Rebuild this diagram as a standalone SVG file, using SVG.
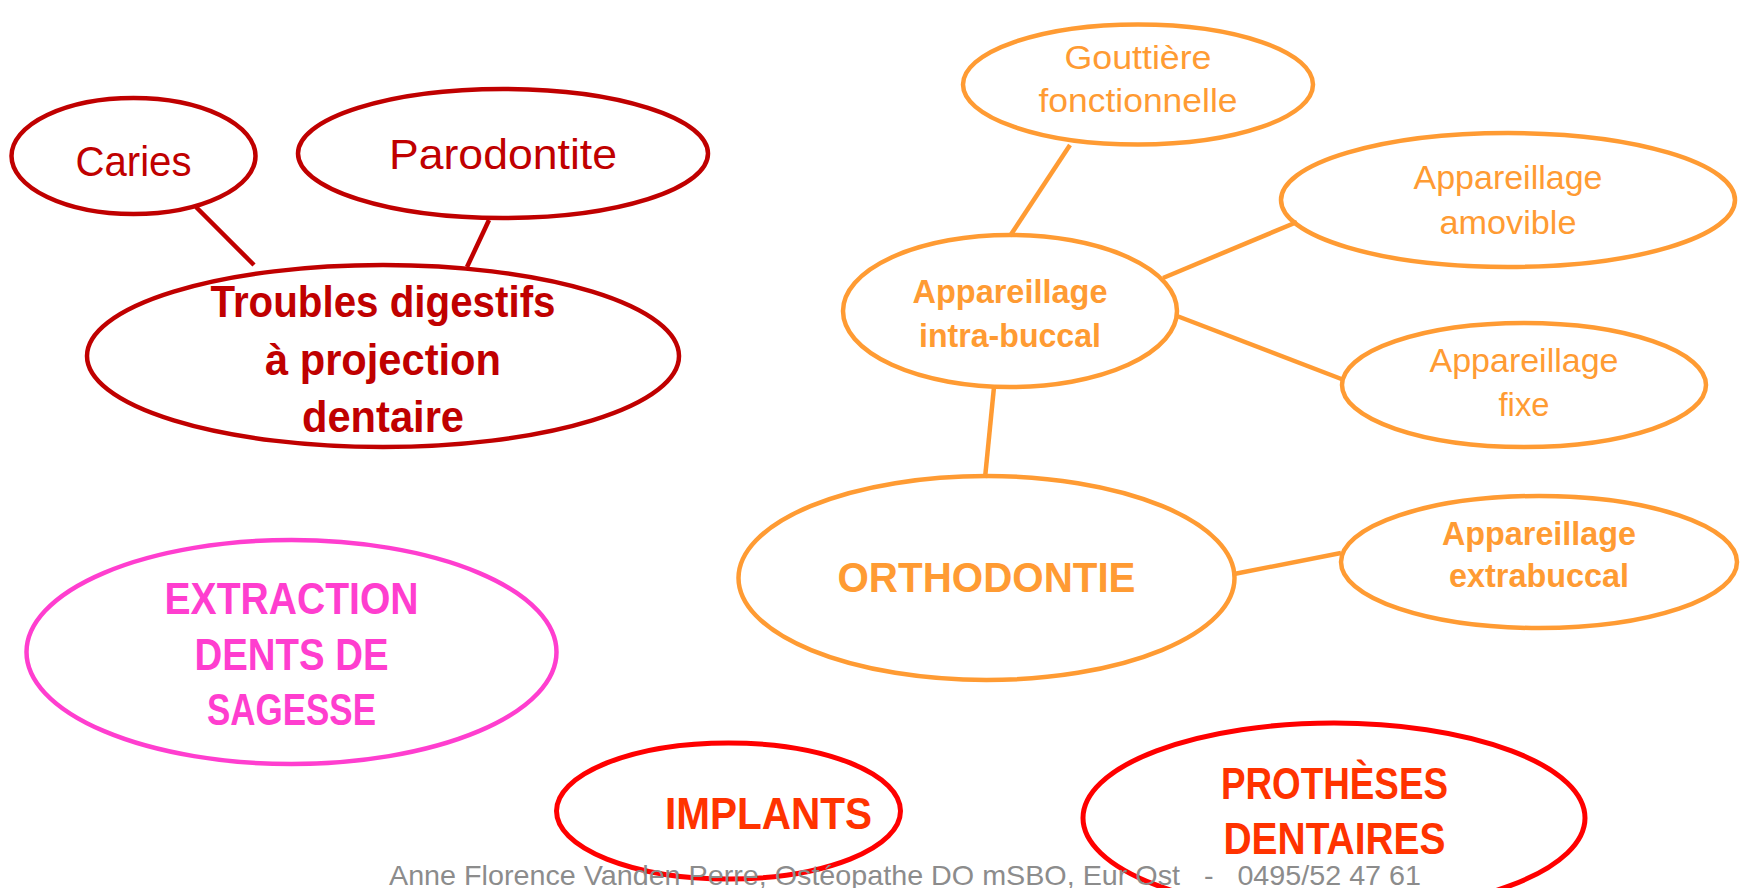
<svg xmlns="http://www.w3.org/2000/svg" width="1744" height="888" viewBox="0 0 1744 888">
<style>
.t{font-family:"Liberation Sans",Arial,sans-serif;text-anchor:middle}
.b{font-weight:bold}
.dr{fill:none;stroke:#C00000;stroke-width:4.5}
.or{fill:none;stroke:#FF9B33;stroke-width:4.5}
.pk{fill:none;stroke:#FF3ECF;stroke-width:4.5}
.rd{fill:none;stroke:#FF0000;stroke-width:5}
.tdr{fill:#C00000}
.tor{fill:#FF9B33}
.tpk{fill:#FF3ECF}
.trd{fill:#FF3300}
.ldr{stroke:#C00000;stroke-width:4.5}
.lor{stroke:#FF9B33;stroke-width:4.5}
</style>
<rect width="1744" height="888" fill="#FFFFFF"/>
<g id="connectors">
<line class="ldr" x1="196" y1="207" x2="254" y2="265"/>
<line class="ldr" x1="489" y1="220" x2="467" y2="267"/>
<line class="lor" x1="1070" y1="145" x2="1010" y2="236"/>
<line class="lor" x1="1163" y1="278" x2="1297" y2="222"/>
<line class="lor" x1="1177" y1="316" x2="1344" y2="380"/>
<line class="lor" x1="994" y1="387" x2="985" y2="478"/>
<line class="lor" x1="1234" y1="574" x2="1341" y2="553"/>
</g>
<g id="caries">
<ellipse class="dr" cx="133.5" cy="156" rx="122" ry="58"/>
<text class="t tdr" x="133.5" y="176" font-size="42" textLength="116" lengthAdjust="spacingAndGlyphs">Caries</text>
</g>
<g id="parodontite">
<ellipse class="dr" cx="503" cy="153.5" rx="205" ry="64.5"/>
<text class="t tdr" x="503" y="169" font-size="42" textLength="228" lengthAdjust="spacingAndGlyphs">Parodontite</text>
</g>
<g id="troubles">
<ellipse class="dr" cx="383" cy="356" rx="296" ry="91"/>
<text class="t b tdr" x="383" y="317" font-size="45" textLength="345" lengthAdjust="spacingAndGlyphs">Troubles digestifs</text>
<text class="t b tdr" x="383" y="375" font-size="45" textLength="236" lengthAdjust="spacingAndGlyphs">à projection</text>
<text class="t b tdr" x="383" y="431.5" font-size="45" textLength="162" lengthAdjust="spacingAndGlyphs">dentaire</text>
</g>
<g id="gouttiere">
<ellipse class="or" cx="1138" cy="84.5" rx="175" ry="60"/>
<text class="t tor" x="1138" y="69" font-size="33" textLength="147" lengthAdjust="spacingAndGlyphs">Gouttière</text>
<text class="t tor" x="1138" y="112" font-size="33" textLength="199" lengthAdjust="spacingAndGlyphs">fonctionnelle</text>
</g>
<g id="amovible">
<ellipse class="or" cx="1508" cy="200" rx="227" ry="67"/>
<text class="t tor" x="1508" y="189" font-size="33" textLength="189" lengthAdjust="spacingAndGlyphs">Appareillage</text>
<text class="t tor" x="1508" y="233.5" font-size="33" textLength="137" lengthAdjust="spacingAndGlyphs">amovible</text>
</g>
<g id="intrabuccal">
<ellipse class="or" cx="1010" cy="311" rx="167" ry="76"/>
<text class="t b tor" x="1010" y="302.5" font-size="33" textLength="195" lengthAdjust="spacingAndGlyphs">Appareillage</text>
<text class="t b tor" x="1010" y="347" font-size="33" textLength="182" lengthAdjust="spacingAndGlyphs">intra-buccal</text>
</g>
<g id="fixe">
<ellipse class="or" cx="1524" cy="385" rx="182" ry="62"/>
<text class="t tor" x="1524" y="371.5" font-size="33" textLength="189" lengthAdjust="spacingAndGlyphs">Appareillage</text>
<text class="t tor" x="1524" y="416" font-size="33" textLength="51" lengthAdjust="spacingAndGlyphs">fixe</text>
</g>
<g id="orthodontie">
<ellipse class="or" cx="986.5" cy="578" rx="248" ry="102"/>
<text class="t b tor" x="986.5" y="592" font-size="43" textLength="298" lengthAdjust="spacingAndGlyphs">ORTHODONTIE</text>
</g>
<g id="extrabuccal">
<ellipse class="or" cx="1539" cy="562" rx="198" ry="66"/>
<text class="t b tor" x="1539" y="545" font-size="33" textLength="194" lengthAdjust="spacingAndGlyphs">Appareillage</text>
<text class="t b tor" x="1539" y="587" font-size="33" textLength="180" lengthAdjust="spacingAndGlyphs">extrabuccal</text>
</g>
<g id="extraction">
<ellipse class="pk" cx="291.5" cy="652" rx="265" ry="112"/>
<text class="t b tpk" x="291.5" y="614" font-size="45" textLength="254" lengthAdjust="spacingAndGlyphs">EXTRACTION</text>
<text class="t b tpk" x="291.5" y="669.5" font-size="45" textLength="194" lengthAdjust="spacingAndGlyphs">DENTS DE</text>
<text class="t b tpk" x="291.5" y="725" font-size="45" textLength="169" lengthAdjust="spacingAndGlyphs">SAGESSE</text>
</g>
<g id="implants">
<ellipse class="rd" cx="728.5" cy="811" rx="172" ry="68"/>
<text class="t b trd" x="768.5" y="828.5" font-size="45" textLength="207" lengthAdjust="spacingAndGlyphs">IMPLANTS</text>
</g>
<g id="protheses">
<ellipse class="rd" cx="1334" cy="818" rx="251" ry="95"/>
<text class="t b trd" x="1334.5" y="798.5" font-size="45" textLength="227" lengthAdjust="spacingAndGlyphs">PROTHÈSES</text>
<text class="t b trd" x="1334.5" y="854" font-size="45" textLength="222" lengthAdjust="spacingAndGlyphs">DENTAIRES</text>
</g>
<g id="footer">
<text class="t" x="905" y="885" font-size="28" fill="#8C8C8C" textLength="1032" lengthAdjust="spacingAndGlyphs" xml:space="preserve">Anne Florence Vanden Perre, Ostéopathe DO mSBO, Eur Ost   -   0495/52 47 61</text>
</g>
</svg>
